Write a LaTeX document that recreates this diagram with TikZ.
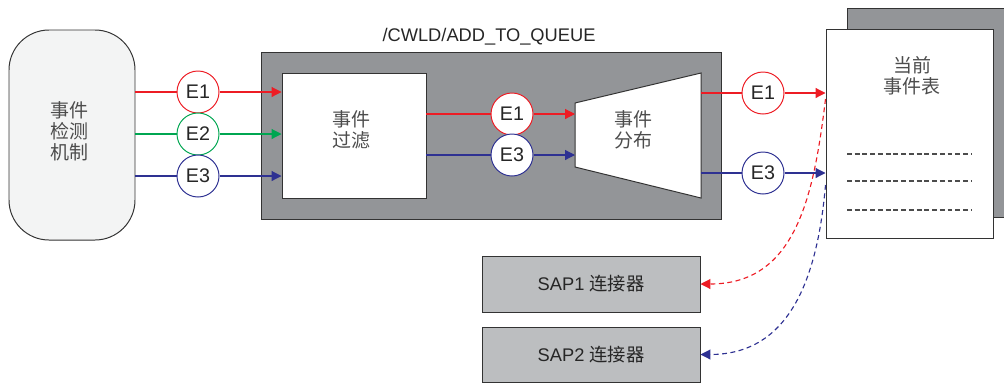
\documentclass[tikz,border=0pt]{standalone}
\usepackage{fontspec}
\setmainfont{Liberation Sans}
\newfontfamily\cjk{Noto Sans CJK SC}
\usetikzlibrary{arrows.meta, positioning, calc, fit}

\definecolor{evred}{HTML}{ED1C24}
\definecolor{evgreen}{HTML}{00A651}
\definecolor{evblue}{HTML}{2E3192}
\definecolor{darkgray}{HTML}{939598}
\definecolor{lightgray}{HTML}{BCBEC0}
\definecolor{paleback}{HTML}{F3F4F4}

\begin{document}
\begin{tikzpicture}[
    x=0.025cm, y=-0.025cm,
    font=\fontsize{13}{15}\selectfont,
    block/.style={draw=black!80, line width=0.7pt, inner sep=0pt},
    detect/.style={block, fill=paleback, rounded corners=1cm},
    whitebox/.style={block, fill=white},
    graybox/.style={block, fill=darkgray},
    sapbox/.style={block, fill=lightgray},
    cjktxt/.style={align=center, text=black!70, font=\cjk\fontsize{13.5}{15}\selectfont},
    evt/.style={circle, fill=white, line width=0.7pt, minimum size=1.05cm, inner sep=0pt, text=black!85, font=\fontsize{14}{16}\selectfont},
    flow/.style={line width=0.8pt},
    tip/.style={-{Triangle[length=7pt,width=7pt]}},
    reply/.style={flow, dash pattern=on 3.5pt off 2.5pt, tip},
    rule/.style={draw=black!70, line width=0.8pt, dash pattern=on 3.5pt off 2pt}
]
\useasboundingbox (0,0) rectangle (1004,383);

% Event detection
\node[detect, fit={(9,30) (135,240)}] (detect) {};
\node[cjktxt] (detecttxt) at (69,131) {事件\\检测\\机制};

% Function module
\node[graybox, fit={(261,52) (721,219)}] (module) {};
\node[text=black!85] (modtitle) at (489,37) {/CWLD/ADD\_TO\_QUEUE};
\node[whitebox, fit={(282,73) (426,198)}] (filter) {};
\node[cjktxt] (filtertxt) at (351,130) {事件\\过滤};

% Distribution (trapezoid)
\coordinate (distL) at (575,135);
\coordinate (distR) at (701,135);
\draw[fill=white, draw=black!80, line width=0.7pt] (575,103) -- (701,73) -- (701,198) -- (575,167) -- cycle;
\node[cjktxt] (disttxt) at (633,130) {事件\\分布};

% Current event table
\node[graybox, fit={(847,8) (1006,217)}] (back) {};
\node[whitebox, fit={(826,29) (993,238)}] (doc) {};
\node[cjktxt] (doctxt) at (912,76) {当前\\事件表};
\foreach \y in {154,181,210}
    \draw[rule] (847,\y) -- (972,\y);

% Connectors
\node[sapbox, fit={(482,256) (700,312)}] (sap1) {};
\node[text=black!85] (sap1txt) at (sap1.center) {SAP1 {\cjk 连接器}};
\node[sapbox, fit={(482,327) (700,382)}] (sap2) {};
\node[text=black!85] (sap2txt) at (sap2.center) {SAP2 {\cjk 连接器}};

% Events into filter
\node[evt, draw=evred] (inE1) at (198,92) {E1};
\node[evt, draw=evgreen] (inE2) at (198,134) {E2};
\node[evt, draw=evblue] (inE3) at (198,176) {E3};
\draw[flow, evred] (detect.east |- inE1) -- (inE1);
\draw[flow, evred, tip] (inE1) -- (filter.west |- inE1);
\draw[flow, evgreen] (detect.east |- inE2) -- (inE2);
\draw[flow, evgreen, tip] (inE2) -- (filter.west |- inE2);
\draw[flow, evblue] (detect.east |- inE3) -- (inE3);
\draw[flow, evblue, tip] (inE3) -- (filter.west |- inE3);

% Filter to distribution
\node[evt, draw=evred] (midE1) at (512,114) {E1};
\node[evt, draw=evblue] (midE3) at (512,155) {E3};
\draw[flow, evred] (filter.east |- midE1) -- (midE1);
\draw[flow, evred, tip] (midE1) -- (distL |- midE1);
\draw[flow, evblue] (filter.east |- midE3) -- (midE3);
\draw[flow, evblue, tip] (midE3) -- (distL |- midE3);

% Distribution to event table
\node[evt, draw=evred] (outE1) at (763,93) {E1};
\node[evt, draw=evblue] (outE3) at (763,173) {E3};
\draw[flow, evred] (distR |- outE1) -- (outE1);
\draw[flow, evred, tip] (outE1) -- (doc.west |- outE1);
\draw[flow, evblue] (distR |- outE3) -- (outE3);
\draw[flow, evblue, tip] (outE3) -- (doc.west |- outE3);

% Event table to connectors
\draw[reply, evred] ($(doc.west |- outE1)+(0,6)$) to[out=-97, in=0, looseness=1.1] (sap1.east);
\draw[reply, evblue] ($(doc.west |- outE3)+(0,12)$) to[out=-95, in=0, looseness=1.1] (sap2.east);

\end{tikzpicture}
\end{document}
